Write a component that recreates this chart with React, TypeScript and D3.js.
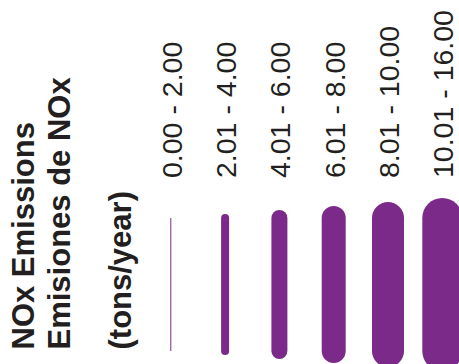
import React from "react";
import * as d3 from "d3";

const categories: string[] = [
  "0.00 - 2.00",
  "2.01 - 4.00",
  "4.01 - 6.00",
  "6.01 - 8.00",
  "8.01 - 10.00",
  "10.01 - 16.00",
];
const classIndex: number[] = [0, 1, 2, 3, 4, 5];
const titleLines: string[] = ["NOx Emissions", "Emisiones de NOx", "(tons/year)"];

const W = 459;
const H = 364;
const COLOR = "#7b2a8a";
const TEXT = "#231f20";

export default function App() {
  const x = d3
    .scalePoint<string>()
    .domain(categories)
    .range([170.8, 442.3]);
  const width = d3.scaleLinear().domain([0, 5]).range([0, 40]);
  const y = d3.scaleLinear().domain([0, 1]).range([351, 218]);
  const titleX = [33.5, 70, 131];

  return (
    <svg
      width={W}
      height={H}
      style={{ position: "absolute", left: 0, top: 0, background: "#fff" }}
    >
      {titleLines.map((t, i) => (
        <text
          key={t}
          transform={`translate(${titleX[i]},349.5) rotate(-90)`}
          fontFamily="'Liberation Sans', Arial, sans-serif"
          fontWeight="bold"
          fontSize={31}
          fill={TEXT}
        >
          {t}
        </text>
      ))}
      {categories.map((c, i) => {
        const cx = x(c)!;
        return (
          <g key={c}>
            <line
              x1={cx}
              x2={cx}
              y1={y(0)}
              y2={y(1)}
              stroke={COLOR}
              strokeWidth={Math.max(1, width(classIndex[i]))}
              strokeLinecap={classIndex[i] === 0 ? "butt" : "round"}
            />
            <text
              transform={`translate(${cx + 10.8},178) rotate(-90)`}
              fontFamily="'Liberation Sans', Arial, sans-serif"
              fontSize={28.5}
              fill={TEXT}
            >
              {c}
            </text>
          </g>
        );
      })}
    </svg>
  );
}
